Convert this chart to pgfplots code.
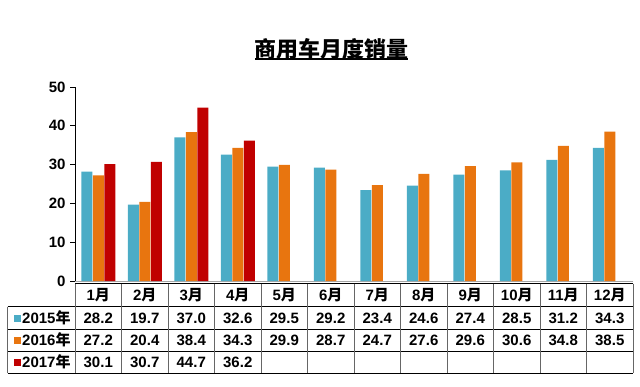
\documentclass[border=0pt]{standalone}
\usepackage{pgfplots}
\pgfplotsset{compat=1.18}
\usepackage{fontspec}
\setmainfont{Liberation Sans}
\newfontfamily\cjk{Noto Sans CJK SC}
\definecolor{c15}{HTML}{4BACC6}
\definecolor{c16}{HTML}{E8750F}
\definecolor{c17}{HTML}{C00000}
\newcommand\yue{{\cjk 月}}
\newcommand\nian{{\cjk 年}}
\begin{document}
\begin{tikzpicture}[font=\bfseries\fontsize{15pt}{15pt}\selectfont]
\path[use as bounding box] (0pt,0pt) rectangle (640pt,386pt);
\node[inner sep=0pt,font=\bfseries\fontsize{22pt}{22pt}\selectfont\cjk] at (331.5pt,337pt) {商用车月度销量};
\draw[line width=1.3pt] (255pt,327pt) -- (408pt,327pt);
\begin{axis}[
  at={(75pt,105pt)}, anchor=south west,
  scale only axis, width=558pt, height=194pt,
  xmin=0.5, xmax=12.5, ymin=0, ymax=50,
  ytick={0,10,20,30,40,50}, xtick=\empty,
  axis x line=bottom, axis y line=left,
  axis line style={-},
  x axis line style={gray!70, line width=1pt},
  y axis line style={black, line width=0.8pt},
  tick align=outside, major tick length=5pt,
  y tick style={black, line width=0.8pt},
  tick label style={font=\bfseries\fontsize{15pt}{15pt}\selectfont},
  /pgf/number format/assume math mode=true,
  yticklabel style={xshift=-1pt},
  ybar=0.5pt, bar width=11pt,
  clip=false,
]
\addplot[fill=c15, draw=none] coordinates {(1,28.2) (2,19.7) (3,37.0) (4,32.6) (5,29.5) (6,29.2) (7,23.4) (8,24.6) (9,27.4) (10,28.5) (11,31.2) (12,34.3)};
\addplot[fill=c16, draw=none] coordinates {(1,27.2) (2,20.4) (3,38.4) (4,34.3) (5,29.9) (6,28.7) (7,24.7) (8,27.6) (9,29.6) (10,30.6) (11,34.8) (12,38.5)};
\addplot[fill=c17, draw=none] coordinates {(1,30.1) (2,30.7) (3,44.7) (4,36.2)};
\end{axis}
% table grid
\draw[line width=0.9pt] (75pt,102.5pt) -- (633pt,102.5pt);
\foreach \yy in {79.3,56.7,35,12.7} \draw[line width=0.9pt] (7.5pt,\yy pt) -- (633pt,\yy pt);
\draw[line width=0.9pt, gray!80!black] (7.5pt,79.3pt) -- (7.5pt,12.7pt);
\foreach \k in {0,...,12} \draw[line width=0.9pt, gray!80!black] ({(75+46.5*\k)*1pt},102.5pt) -- ({(75+46.5*\k)*1pt},12.7pt);
% header
\foreach \m in {1,...,12} \node[inner sep=0pt, text height=10.7pt, text depth=0pt] at ({(75+46.5*(\m-0.5))*1pt},91pt) {\m\yue};
% legend column
\fill[c15] (14pt,64.5pt) rectangle (21pt,71.5pt);
\fill[c16] (14pt,42.5pt) rectangle (21pt,49.5pt);
\fill[c17] (14pt,20.5pt) rectangle (21pt,27.5pt);
\node[anchor=west, inner sep=0pt, text height=10.7pt, text depth=0pt] at (22pt,68pt) {2015\nian};
\node[anchor=west, inner sep=0pt, text height=10.7pt, text depth=0pt] at (22pt,46pt) {2016\nian};
\node[anchor=west, inner sep=0pt, text height=10.7pt, text depth=0pt] at (22pt,24pt) {2017\nian};
% values
\foreach \v [count=\i] in {28.2,19.7,37.0,32.6,29.5,29.2,23.4,24.6,27.4,28.5,31.2,34.3}
  \node[inner sep=0pt, text height=10.7pt, text depth=0pt] at ({(75+46.5*(\i-0.5))*1pt},68pt) {\v};
\foreach \v [count=\i] in {27.2,20.4,38.4,34.3,29.9,28.7,24.7,27.6,29.6,30.6,34.8,38.5}
  \node[inner sep=0pt, text height=10.7pt, text depth=0pt] at ({(75+46.5*(\i-0.5))*1pt},46pt) {\v};
\foreach \v [count=\i] in {30.1,30.7,44.7,36.2}
  \node[inner sep=0pt, text height=10.7pt, text depth=0pt] at ({(75+46.5*(\i-0.5))*1pt},24pt) {\v};
\end{tikzpicture}
\end{document}
